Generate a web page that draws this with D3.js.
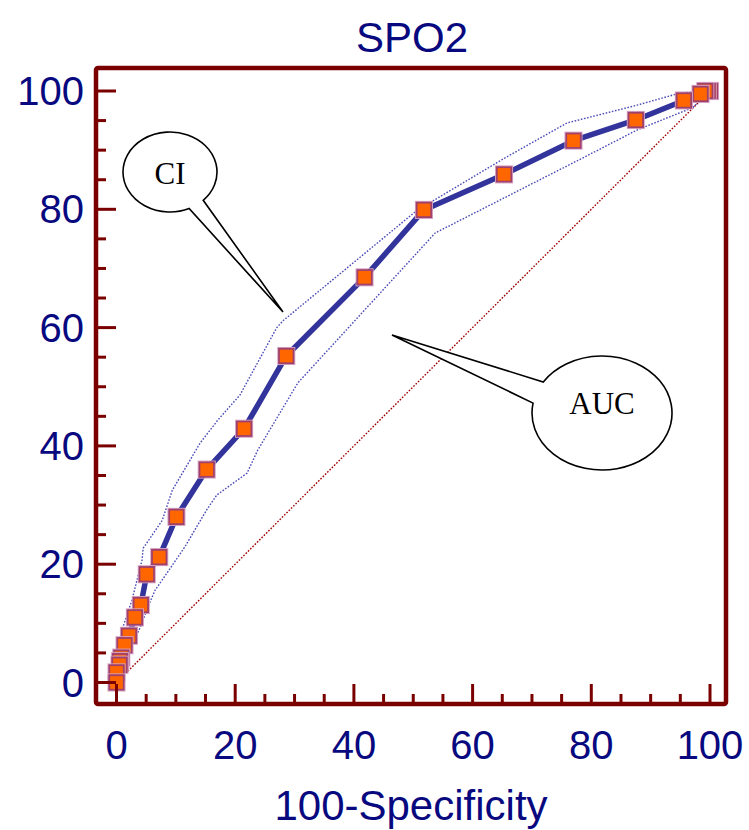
<!DOCTYPE html>
<html>
<head>
<meta charset="utf-8">
<script src="https://cdn.jsdelivr.net/npm/d3@7"></script>
<style>
  html, body { margin: 0; padding: 0; background: #ffffff; }
  svg { display: block; }
</style>
</head>
<body>
<div id="chart"></div>
<script>
// ROC curve for SPO2: 100-Specificity (x) against Sensitivity (y)
const chartTitle = "SPO2";
const xTitle = "100-Specificity";

const rocX = [0, 0.0, 0.5, 0.6, 0.8, 1.35, 2.1, 3.1, 4.1, 5.1, 7.2, 10.1, 15.2, 21.5, 28.6, 41.8, 51.8, 65.3, 77.0, 87.5, 95.6, 98.4, 99.2, 99.6, 100];
const rocY = [0, 1.7, 3.0, 3.6, 4.2, 6.3, 7.9, 11.0, 13.1, 18.3, 21.2, 28.0, 36.0, 42.9, 55.2, 68.5, 79.9, 85.9, 91.6, 95.1, 98.4, 99.5, 100, 100, 100];

// 95% confidence bounds
const ciUpperX = [0, 0.25, 1.1, 2.6, 4.3, 4.5, 7.7, 9.4, 14.1, 17.1, 20.8, 27.0, 28.1, 50.6, 65.3, 75.9, 87.7, 94.4, 98.3, 100];
const ciUpperY = [0, 6.0, 9.4, 13.9, 20.7, 22.7, 27.4, 32.5, 40.5, 44.4, 48.6, 60.0, 61.2, 79.8, 88.6, 94.6, 97.6, 99.5, 100, 100];
const ciLowerX = [0, 1.4, 2.6, 4.3, 5.3, 6.5, 8.5, 11.5, 15.2, 16.9, 22.0, 23.8, 30.1, 30.6, 53.7, 78.6, 87.7, 97.1, 100];
const ciLowerY = [0, 3.8, 6.0, 10.1, 12.8, 15.6, 18.5, 22.9, 29.2, 31.7, 35.4, 39.3, 49.9, 50.7, 76.0, 88.7, 93.4, 97.2, 100];

const tickValues = [0, 5, 10, 15, 20, 25, 30, 35, 40, 45, 50, 55, 60, 65, 70, 75, 80, 85, 90, 95, 100];
const tickLabels = ["0", "20", "40", "60", "80", "100"];

const W = 749, H = 830;
const navy = "#08087f";
const maroon = "#7a0000";

const svg = d3.select("#chart").append("svg")
  .attr("width", W).attr("height", H)
  .attr("viewBox", `0 0 ${W} ${H}`);

const x = d3.scaleLinear().domain([0, 100]).range([116.5, 710]);
const y = d3.scaleLinear().domain([0, 100]).range([682.5, 91]);

const frame = { left: 96, top: 68, right: 726, bottom: 704 };

// diagonal reference line
svg.append("line")
  .attr("x1", x(0)).attr("y1", y(0)).attr("x2", x(100)).attr("y2", y(100))
  .attr("stroke", "#a00000").attr("stroke-width", 1.4)
  .attr("stroke-dasharray", "1.6,1.6");

// confidence bounds
const line = d3.line().x(d => x(d[0])).y(d => y(d[1]));
const upper = ciUpperX.map((v, i) => [v, ciUpperY[i]]);
const lower = ciLowerX.map((v, i) => [v, ciLowerY[i]]);
[upper, lower].forEach(pts => {
  svg.append("path").attr("d", line(pts))
    .attr("fill", "none").attr("stroke", "#4a4ab8").attr("stroke-width", 1.4)
    .attr("stroke-dasharray", "1.6,1.6");
});

// ROC curve
const roc = rocX.map((v, i) => [v, rocY[i]]);
svg.append("path").attr("d", line(roc))
  .attr("fill", "none").attr("stroke", "#33339c").attr("stroke-width", 5.5)
  .attr("stroke-linejoin", "round");

// markers, drawn from the top-right end back to the origin
const ms = 14.5;
const mk = svg.append("g").selectAll("g")
  .data(roc.slice().reverse())
  .join("g")
  .attr("transform", d => `translate(${x(d[0])},${y(d[1])})`);
mk.append("rect")
  .attr("x", -ms / 2 - 1.2).attr("y", -ms / 2 - 1.2)
  .attr("width", ms + 2.4).attr("height", ms + 2.4)
  .attr("fill", "none").attr("stroke", "#d8a6c6").attr("stroke-width", 1.2);
mk.append("rect")
  .attr("x", -ms / 2).attr("y", -ms / 2)
  .attr("width", ms).attr("height", ms)
  .attr("fill", "#ff6600")
  .attr("stroke", "#a0406c").attr("stroke-width", 1.8);

// frame
svg.append("rect")
  .attr("x", frame.left).attr("y", frame.top)
  .attr("width", frame.right - frame.left).attr("height", frame.bottom - frame.top)
  .attr("rx", 2)
  .attr("fill", "none").attr("stroke", maroon).attr("stroke-width", 4.5);

// ticks on the bottom and left sides of the frame
const isMajor = v => v % 20 === 0;
svg.append("g").selectAll("line")
  .data(tickValues).join("line")
  .attr("x1", d => x(d)).attr("x2", d => x(d))
  .attr("y1", frame.bottom).attr("y2", d => frame.bottom - (isMajor(d) ? 20 : 10))
  .attr("stroke", maroon).attr("stroke-width", 3);
svg.append("g").selectAll("line")
  .data(tickValues).join("line")
  .attr("y1", d => y(d)).attr("y2", d => y(d))
  .attr("x1", frame.left).attr("x2", d => frame.left + (isMajor(d) ? 20 : 10))
  .attr("stroke", maroon).attr("stroke-width", 3);

// tick labels
const labelFont = "'Liberation Sans', Arial, sans-serif";
svg.append("g").selectAll("text")
  .data(tickLabels).join("text")
  .attr("x", d => x(+d)).attr("y", 759)
  .attr("text-anchor", "middle")
  .attr("font-family", labelFont).attr("font-size", 40)
  .attr("fill", navy).text(d => d);
svg.append("g").selectAll("text")
  .data(tickLabels).join("text")
  .attr("x", 84).attr("y", d => y(+d) + 14)
  .attr("text-anchor", "end")
  .attr("font-family", labelFont).attr("font-size", 40)
  .attr("fill", navy).text(d => d);

// titles
svg.append("text").attr("x", 412).attr("y", 52)
  .attr("text-anchor", "middle")
  .attr("font-family", labelFont).attr("font-size", 42)
  .attr("fill", navy).text(chartTitle);
svg.append("text").attr("x", 411).attr("y", 820)
  .attr("text-anchor", "middle")
  .attr("font-family", labelFont).attr("font-size", 42)
  .attr("fill", navy).text(xTitle);

// speech-bubble callouts
function bubble(cx, cy, rx, ry, a1, a2, tip, label, fs, ty) {
  const p = a => [cx + rx * Math.cos(a * Math.PI / 180), cy + ry * Math.sin(a * Math.PI / 180)];
  const s = p(a2), e = p(a1);
  const d = `M${s[0]},${s[1]} A${rx},${ry} 0 1 1 ${e[0]},${e[1]} L${tip[0]},${tip[1]} Z`;
  svg.append("path").attr("d", d)
    .attr("fill", "#ffffff").attr("stroke", "#000000").attr("stroke-width", 1.6)
    .attr("stroke-linejoin", "miter");
  svg.append("text").attr("x", cx).attr("y", ty)
    .attr("text-anchor", "middle")
    .attr("font-family", "'Liberation Serif', 'Times New Roman', serif")
    .attr("font-size", fs).attr("fill", "#000000").text(label);
}
bubble(170, 172, 47, 40, 45, 66, [283, 312], "CI", 31, 184);
bubble(602, 413, 70, 57, 190, 213, [392, 335], "AUC", 31, 414);
</script>
</body>
</html>
